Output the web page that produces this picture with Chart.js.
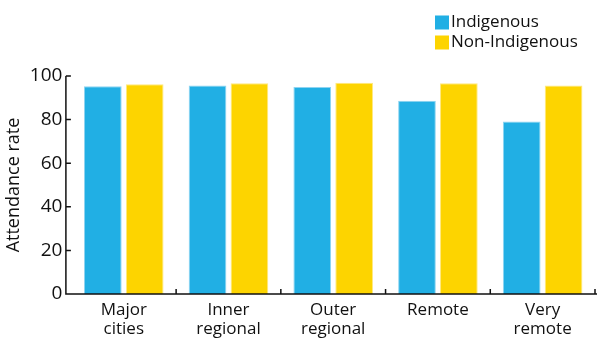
<!DOCTYPE html>
<html>
<head>
<meta charset="utf-8">
<title>Attendance rate by remoteness</title>
<script src="https://cdn.jsdelivr.net/npm/chart.js@4.4.1/dist/chart.umd.min.js"></script>
<style>
	html, body { margin: 0; padding: 0; background: #ffffff; }
	#wrap { width: 600px; height: 346px; }
</style>
</head>
<body>
<div id="wrap"><canvas id="chart" width="600" height="346"></canvas></div>
<script>
// attendance rate (%) by remoteness area
let categories = [["Major", "cities"], ["Inner", "regional"], ["Outer", "regional"], ["Remote"], ["Very", "remote"]];
let indigenous = [95.3, 95.6, 95.0, 88.7, 79.1];
let nonIndigenous = [96.2, 96.7, 96.9, 96.7, 95.6];
let yTicks = [0, 20, 40, 60, 80, 100];
let seriesNames = ["Indigenous", "Non-Indigenous"];
let colors = ["#21AFE4", "#FDD400"];
let edgeColors = ["#8ED4F1", "#FFE97F"];

let fontName = "'Open Sans', 'Noto Sans', sans-serif";
let ink = "#111111";

// axes are drawn by hand: the y line sits a little left of the first bar group
let axesPlugin = {
	id: "handAxes",
	afterDraw(chart){
		let ctx = chart.ctx;
		let area = chart.chartArea;
		let x = chart.scales.x;
		let y = chart.scales.y;
		let axisX = area.left - 5.5;
		let base = y.getPixelForValue(0);
		ctx.save();
		ctx.strokeStyle = ink;
		ctx.lineWidth = 1.5;
		ctx.beginPath();
		ctx.moveTo(axisX, y.getPixelForValue(100));
		ctx.lineTo(axisX, base);
		ctx.lineTo(area.right + 2, base);
		for(let i = 0; i < yTicks.length; i++){
			let py = y.getPixelForValue(yTicks[i]);
			ctx.moveTo(axisX, py);
			ctx.lineTo(axisX + 5, py);
		}
		let step = x.getPixelForValue(1) - x.getPixelForValue(0);
		for(let i = 0; i < categories.length; i++){
			let px = x.getPixelForValue(i) + step / 2;
			ctx.moveTo(px, base);
			ctx.lineTo(px, base - 5);
		}
		ctx.stroke();
		ctx.restore();
	}
};

// two-row legend in the top right corner
let legendPlugin = {
	id: "cornerLegend",
	afterDraw(chart){
		let ctx = chart.ctx;
		ctx.save();
		ctx.font = "17px " + fontName;
		ctx.textBaseline = "middle";
		for(let i = 0; i < chart.data.datasets.length; i++){
			let ds = chart.data.datasets[i];
			let top = 15.5 + i * 20;
			ctx.fillStyle = ds.backgroundColor;
			ctx.fillRect(435, top, 14, 14);
			ctx.fillStyle = ink;
			ctx.fillText(ds.label, 451, top + 7);
		}
		ctx.restore();
	}
};

let ctx = document.getElementById("chart").getContext("2d");
let chart = new Chart(ctx, {
	type: "bar",
	data: {
		labels: categories,
		datasets: [
			{
				label: seriesNames[0],
				data: indigenous,
				backgroundColor: colors[0],
				borderColor: edgeColors[0],
				borderWidth: 1
			},
			{
				label: seriesNames[1],
				data: nonIndigenous,
				backgroundColor: colors[1],
				borderColor: edgeColors[1],
				borderWidth: 1
			}
		]
	},
	options: {
		responsive: false,
		animation: false,
		layout: { padding: { top: 76, right: 5, left: 0, bottom: 0 } },
		plugins: {
			legend: { display: false },
			tooltip: { enabled: false }
		},
		scales: {
			x: {
				grid: { display: false, drawTicks: false },
				border: { display: false },
				ticks: {
					color: ink,
					padding: 7,
					font: { family: fontName, size: 17, lineHeight: 1.12 }
				},
				afterFit(scale){ scale.height = 52; }
			},
			y: {
				min: 0,
				max: 100,
				afterBuildTicks(scale){
					scale.ticks = yTicks.map(function(v){ return { value: v }; });
				},
				grid: { display: false, drawTicks: false },
				border: { display: false },
				ticks: {
					color: ink,
					padding: 9,
					font: { family: fontName, size: 19 }
				},
				title: {
					display: true,
					text: "Attendance rate",
					color: ink,
					padding: { top: 3, bottom: 0 },
					font: { family: fontName, size: 18 }
				},
				afterFit(scale){ scale.width = 71.4; }
			}
		}
	},
	plugins: [axesPlugin, legendPlugin]
});
</script>
</body>
</html>
